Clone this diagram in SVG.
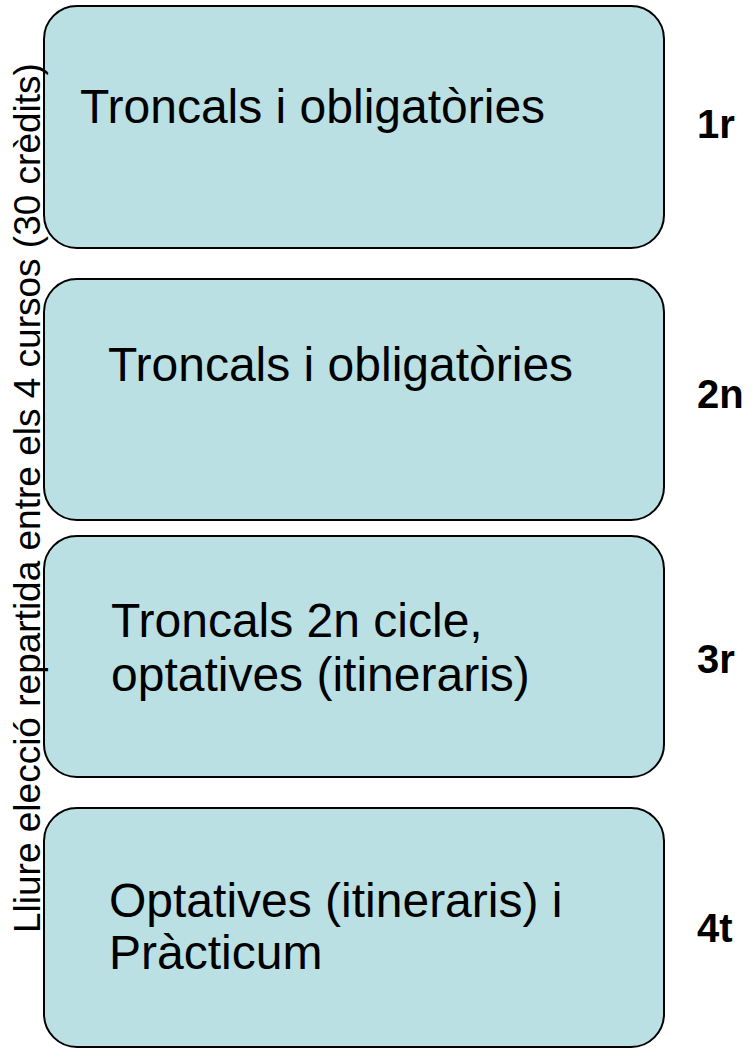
<svg xmlns="http://www.w3.org/2000/svg" width="753" height="1049" viewBox="0 0 753 1049">
<style>
.box{fill:#BBE0E3;stroke:#000;stroke-width:2}
.t{font-family:"Liberation Sans",Arial,sans-serif;font-size:48px;fill:#000}
.yr{font-family:"Liberation Sans",Arial,sans-serif;font-size:40px;font-weight:bold;fill:#000}
.side{font-family:"Liberation Sans",Arial,sans-serif;font-size:37px;fill:#000}
</style>
<rect width="753" height="1049" fill="#fff"/>
<g id="curs1">
<rect class="box" x="44" y="6" width="620" height="242" rx="33" ry="33"/>
<text class="t" x="80" y="123">Troncals i obligatòries</text>
</g>
<g id="curs2">
<rect class="box" x="44" y="279" width="620" height="241" rx="33" ry="33"/>
<text class="t" x="108" y="381">Troncals i obligatòries</text>
</g>
<g id="curs3">
<rect class="box" x="44" y="536" width="620" height="241" rx="33" ry="33"/>
<text class="t" x="111" y="637">Troncals 2n cicle,</text>
<text class="t" x="111" y="691">optatives (itineraris)</text>
</g>
<g id="curs4">
<rect class="box" x="44" y="808" width="620" height="239" rx="33" ry="33"/>
<text class="t" x="109" y="917">Optatives (itineraris) i</text>
<text class="t" x="109" y="969">Pràcticum</text>
</g>
<g id="labels">
<text class="yr" x="697" y="138">1r</text>
<text class="yr" x="697" y="408">2n</text>
<text class="yr" x="697" y="673">3r</text>
<text class="yr" x="697" y="942">4t</text>
</g>
<g id="lliure">
<text class="side" transform="translate(40,933) rotate(-90)">Lliure elecció repartida entre els 4 cursos (30 crèdits)</text>
</g>
<g id="connectors"></g>
</svg>
